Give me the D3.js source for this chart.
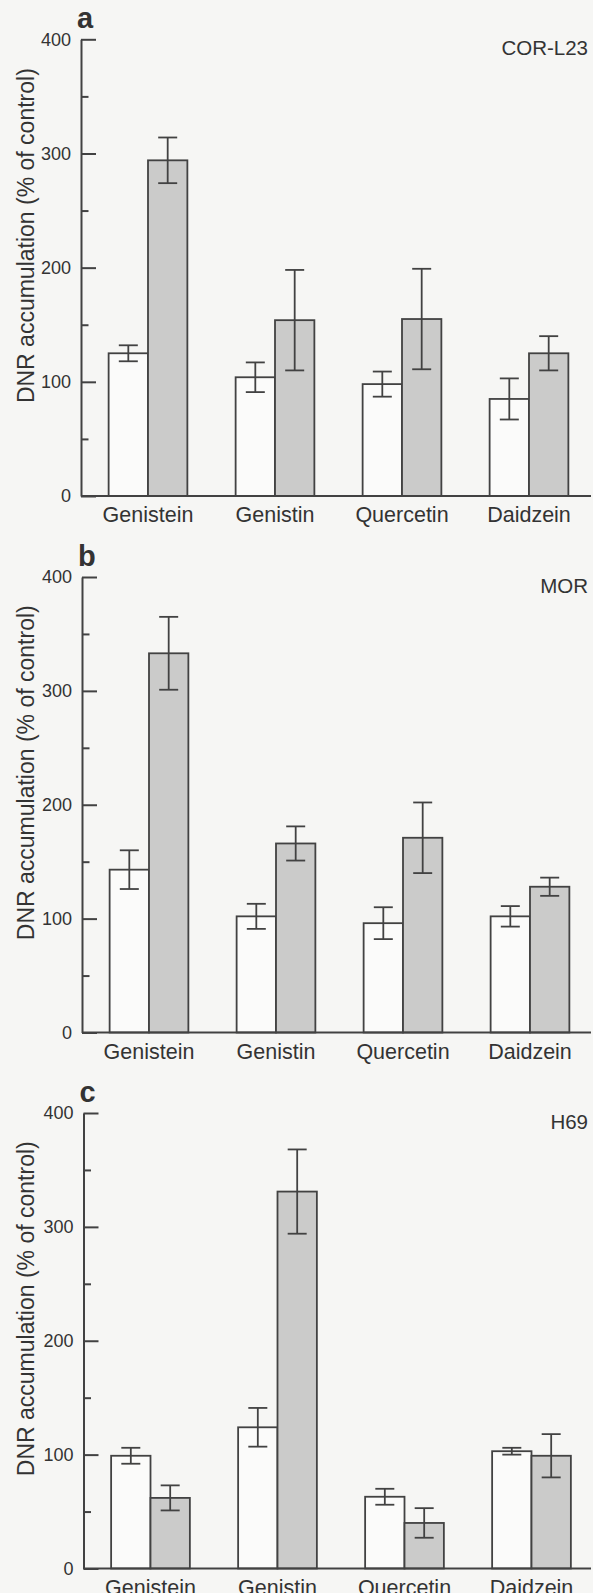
<!DOCTYPE html>
<html>
<head>
<meta charset="utf-8">
<script src="https://cdn.jsdelivr.net/npm/d3@7"></script>
<style>
  body { margin: 0; background: #f6f6f4; }
  svg { display: block; }
  text { font-family: "Liberation Sans", Arial, sans-serif; fill: #333333; }
</style>
</head>
<body>
<script>
// categories and tick values
var categories = ["Genistein", "Genistin", "Quercetin", "Daidzein"];
var panelLetters = ["a", "b", "c"];
var cellLines = ["COR-L23", "MOR", "H69"];
var yTicks = [0, 100, 200, 300, 400];
var yMinorTicks = [50, 150, 250, 350];

// COR-L23 (panel a)
var corWhite = [125, 104, 98, 85];
var corWhiteErr = [7, 13, 11, 18];
var corGrey = [294, 154, 155, 125];
var corGreyErr = [20, 44, 44, 15];

// MOR (panel b)
var morWhite = [143, 102, 96, 102];
var morWhiteErr = [17, 11, 14, 9];
var morGrey = [333, 166, 171, 128];
var morGreyErr = [32, 15, 31, 8];

// H69 (panel c)
var h69White = [99, 124, 63, 103];
var h69WhiteErr = [7, 17, 7, 3];
var h69Grey = [62, 331, 40, 99];
var h69GreyErr = [11, 37, 13, 19];

var width = 593, height = 1593;
var ink = "#424242";

var svg = d3.select("body").append("svg")
  .attr("width", width)
  .attr("height", height);

// one panel per cell line
var panels = [
  {top: 39.3, bottom: 496, axisX: 81, white: corWhite, whiteErr: corWhiteErr, grey: corGrey, greyErr: corGreyErr},
  {top: 577, bottom: 1032.5, axisX: 82, white: morWhite, whiteErr: morWhiteErr, grey: morGrey, greyErr: morGreyErr},
  {top: 1113, bottom: 1568.5, axisX: 83.5, white: h69White, whiteErr: h69WhiteErr, grey: h69Grey, greyErr: h69GreyErr}
];

panels.forEach(function(p, i) {
  drawPanel(p, i);
});

function drawPanel(p, i) {
  var g = svg.append("g");

  var y = d3.scaleLinear().domain([0, 400]).range([p.bottom, p.top]);
  var x = d3.scaleBand()
    .domain(categories)
    .range([p.axisX + 3.5, p.axisX + 3.5 + 4 * 127])
    .paddingInner(0.38)
    .paddingOuter(0.19);
  var sub = d3.scaleBand().domain(["white", "grey"]).range([0, x.bandwidth()]);

  var rows = categories.map(function(c, k) {
    return [
      {cat: c, s: "white", v: p.white[k], e: p.whiteErr[k]},
      {cat: c, s: "grey", v: p.grey[k], e: p.greyErr[k]}
    ];
  });
  var bars = d3.merge(rows);

  //bars
  g.selectAll(".bar")
    .data(bars)
    .enter().append("rect")
    .attr("class", "bar")
    .attr("x", function(d) { return x(d.cat) + sub(d.s); })
    .attr("y", function(d) { return y(d.v); })
    .attr("width", sub.bandwidth())
    .attr("height", function(d) { return y(0) - y(d.v); })
    .attr("fill", function(d) { return d.s == "white" ? "#fbfbfa" : "#cbcbca"; })
    .attr("stroke", ink)
    .attr("stroke-width", 1.8);

  //error bars
  var eb = g.selectAll(".err")
    .data(bars)
    .enter().append("g")
    .attr("class", "err")
    .attr("stroke", ink)
    .attr("stroke-width", 1.8);
  var cx = function(d) { return x(d.cat) + sub(d.s) + sub.bandwidth() / 2; };
  eb.append("line")
    .attr("x1", cx).attr("x2", cx)
    .attr("y1", function(d) { return y(d.v + d.e); })
    .attr("y2", function(d) { return y(d.v - d.e); });
  eb.append("line")
    .attr("x1", function(d) { return cx(d) - 9.5; })
    .attr("x2", function(d) { return cx(d) + 9.5; })
    .attr("y1", function(d) { return y(d.v + d.e); })
    .attr("y2", function(d) { return y(d.v + d.e); });
  eb.append("line")
    .attr("x1", function(d) { return cx(d) - 9.5; })
    .attr("x2", function(d) { return cx(d) + 9.5; })
    .attr("y1", function(d) { return y(d.v - d.e); })
    .attr("y2", function(d) { return y(d.v - d.e); });

  //y axis, ticks pointing inward
  var yAxis = g.append("g")
    .attr("transform", "translate(" + p.axisX + ",0)")
    .call(d3.axisLeft(y).tickValues(yTicks).tickSizeInner(-15).tickSizeOuter(0).tickPadding(10));
  yAxis.selectAll("text").style("font-size", "18px").attr("fill", "#333333");

  var yMinor = g.append("g")
    .attr("transform", "translate(" + p.axisX + ",0)")
    .call(d3.axisLeft(y).tickValues(yMinorTicks).tickSize(-7.5).tickFormat(""));
  yMinor.select(".domain").remove();
  g.selectAll(".tick line, .domain").attr("stroke", ink).attr("stroke-width", 2);

  //x axis
  var xAxis = g.append("g")
    .attr("transform", "translate(0," + p.bottom + ")")
    .call(d3.axisBottom(x).tickSize(0));
  xAxis.select(".domain").remove();
  xAxis.selectAll("text")
    .attr("dy", null)
    .attr("y", 26)
    .style("font-size", "21.5px")
    .attr("fill", "#333333");
  g.append("line")
    .attr("x1", p.axisX).attr("x2", 591)
    .attr("y1", p.bottom).attr("y2", p.bottom)
    .attr("stroke", ink).attr("stroke-width", 2);

  //axis title
  g.append("text")
    .attr("transform", "translate(34," + ((p.top + p.bottom) / 2 - 32) + ") rotate(-90)")
    .attr("text-anchor", "middle")
    .style("font-size", "23px")
    .text("DNR accumulation (% of control)");

  //panel letter
  g.append("text")
    .attr("x", p.axisX - 4)
    .attr("y", p.top - 11)
    .style("font-size", "29px")
    .style("font-weight", "bold")
    .text(panelLetters[i]);

  //cell line name
  g.append("text")
    .attr("x", 588)
    .attr("y", p.top + 15.5)
    .attr("text-anchor", "end")
    .style("font-size", "20.5px")
    .text(cellLines[i]);
}
</script>
</body>
</html>
